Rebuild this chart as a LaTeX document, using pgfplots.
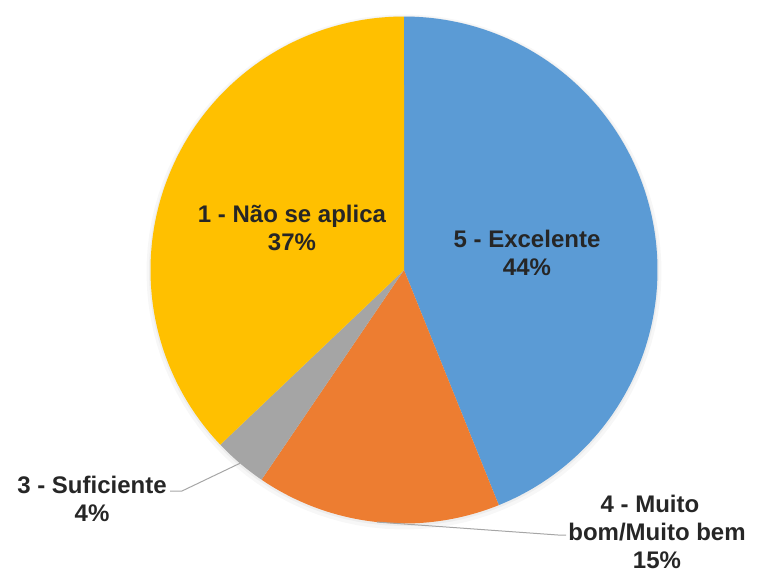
\documentclass[border=0pt]{standalone}
\usepackage{pgfplots}
\pgfplotsset{compat=1.18}
\usepackage{fontspec}
\setmainfont{Liberation Sans}
\definecolor{pieblue}{HTML}{5B9BD5}
\definecolor{pieorange}{HTML}{ED7D31}
\definecolor{piegray}{HTML}{A5A5A5}
\definecolor{piegold}{HTML}{FFC000}
\definecolor{lbl}{HTML}{262626}
\definecolor{leader}{HTML}{A6A6A6}
\tikzset{pielbl/.style={font=\fontsize{24}{28}\selectfont\bfseries, text=lbl, align=center, inner sep=0pt}}
% shares (percent), clockwise from 12 o'clock
\def\vA{43.9}% 5 - Excelente
\def\vB{15.6}% 4 - Muito bom/Muito bem
\def\vC{3.4}%  3 - Suficiente
\def\vD{37.1}% 1 - Nao se aplica
\def\cx{404}\def\cy{270}\def\rr{253.5}
\pgfmathsetmacro\aA{3.6*\vA}
\pgfmathsetmacro\aB{\aA+3.6*\vB}
\pgfmathsetmacro\aC{\aB+3.6*\vC}
\pgfmathsetmacro\mB{\aA+1.8*\vB}
\pgfmathsetmacro\mC{\aB+1.8*\vC}
\pgfmathsetmacro\mBx{\cx+\rr*sin(\mB)}
\pgfmathsetmacro\mBy{\cy-\rr*cos(\mB)}
\pgfmathsetmacro\mCx{\cx+\rr*sin(\mC)}
\pgfmathsetmacro\mCy{\cy-\rr*cos(\mC)}
\begin{document}
\begin{tikzpicture}
\begin{axis}[
  x=1pt, y=1pt, y dir=reverse,
  xmin=0, xmax=760, ymin=0, ymax=576,
  scale only axis, hide axis, clip=false,
]
\path (axis cs:0,0) rectangle (axis cs:760,576);
% soft shadow
\addplot[fill=black, fill opacity=0.03, draw=none, domain=0:360, samples=120, variable=\t]
  ({\cx+(\rr+4)*sin(\t)},{\cy+2-(\rr+4)*cos(\t)}) -- cycle;
\addplot[fill=black, fill opacity=0.04, draw=none, domain=0:360, samples=120, variable=\t]
  ({\cx+(\rr+1.5)*sin(\t)},{\cy+1-(\rr+1.5)*cos(\t)}) -- cycle;
% wedges
\addplot[fill=pieblue, draw=none, domain=0:\aA, samples=120, variable=\t]
  ({\cx+\rr*sin(\t)},{\cy-\rr*cos(\t)}) -- (axis cs:\cx,\cy) -- cycle;
\addplot[fill=pieorange, draw=none, domain=\aA:\aB, samples=60, variable=\t]
  ({\cx+\rr*sin(\t)},{\cy-\rr*cos(\t)}) -- (axis cs:\cx,\cy) -- cycle;
\addplot[fill=piegray, draw=none, domain=\aB:\aC, samples=20, variable=\t]
  ({\cx+\rr*sin(\t)},{\cy-\rr*cos(\t)}) -- (axis cs:\cx,\cy) -- cycle;
\addplot[fill=piegold, draw=none, domain=\aC:360, samples=120, variable=\t]
  ({\cx+\rr*sin(\t)},{\cy-\rr*cos(\t)}) -- (axis cs:\cx,\cy) -- cycle;
% leader lines
\addplot[leader, line width=1pt, no marks] coordinates {(170,491) (182,491) (\mCx,\mCy)};
\addplot[leader, line width=1pt, no marks] coordinates {(\mBx,\mBy) (558,535) (566,535)};
% labels
\node[pielbl] at (axis cs:292,227.5) {1 - Não se aplica\\37\%};
\node[pielbl] at (axis cs:527,253) {5 - Excelente\\44\%};
\node[pielbl] at (axis cs:92,499) {3 - Suficiente\\4\%};
\node[pielbl] at (axis cs:657,532) {4 - Muito\rule{14pt}{0pt}\\bom/Muito bem\\15\%};
\end{axis}
\end{tikzpicture}
\end{document}
